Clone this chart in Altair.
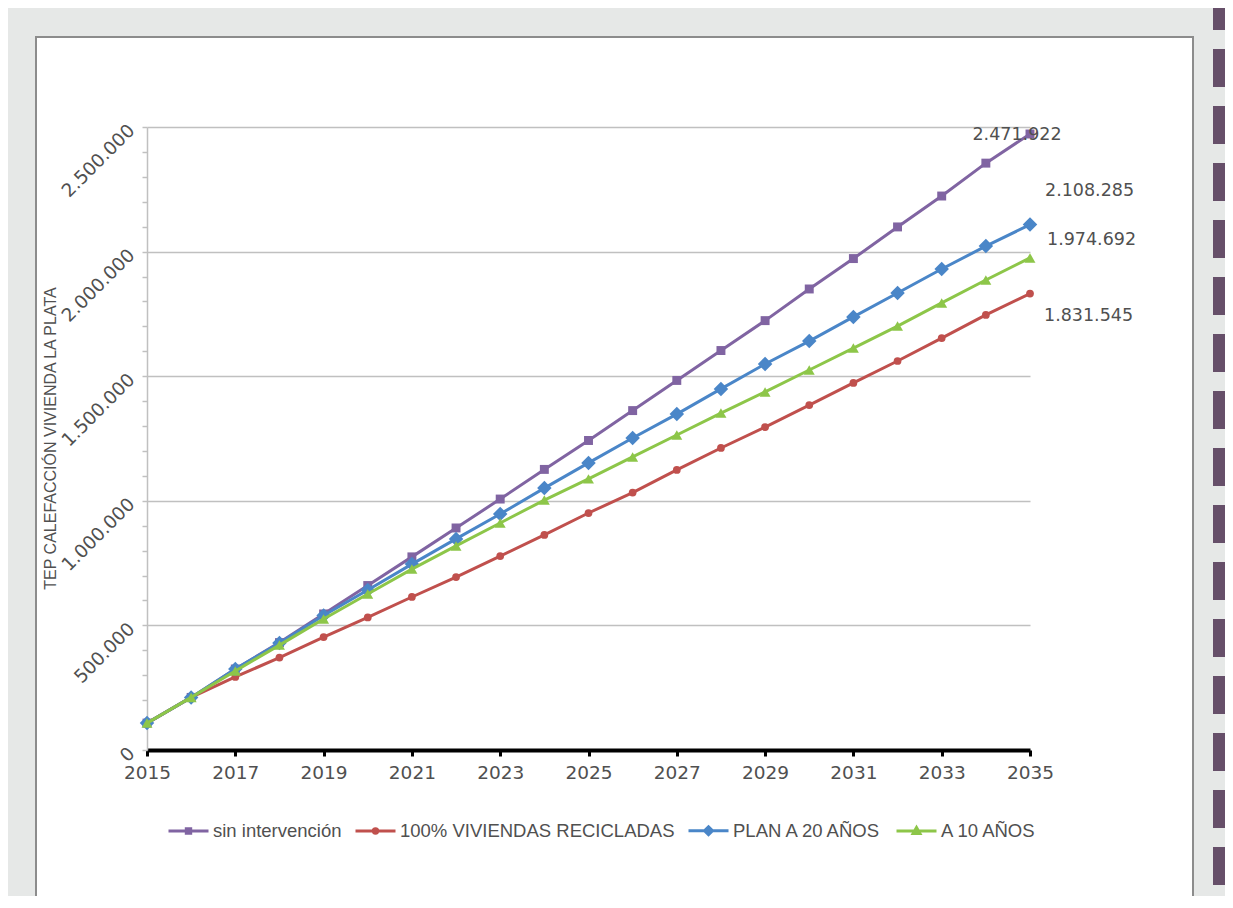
import altair as alt
import pandas as pd

# ---------------- data ----------------
years = list(range(2015, 2036))
series_names = ["sin intervención", "100% VIVIENDAS RECICLADAS", "PLAN A 20 AÑOS", "A 10 AÑOS"]
sin_intervencion = [108000, 211000, 325000, 431000, 546000, 660000, 775000, 891000, 1007000, 1126000,
                    1242000, 1362000, 1483000, 1603000, 1723000, 1850000, 1972000, 2099000, 2223000,
                    2355000, 2471922]
recicladas = [108000, 211000, 293000, 371000, 453000, 532000, 614000, 694000, 778000, 863000,
              951000, 1033000, 1124000, 1212000, 1296000, 1384000, 1473000, 1561000, 1653000,
              1746000, 1831545]
plan_20 = [108000, 211000, 325000, 429000, 540000, 642000, 746000, 847000, 947000, 1051000,
           1152000, 1252000, 1348000, 1449000, 1549000, 1641000, 1738000, 1834000, 1930000,
           2022000, 2108285]
a_10 = [108000, 211000, 317000, 421000, 526000, 626000, 726000, 819000, 911000, 1003000,
        1088000, 1176000, 1264000, 1352000, 1437000, 1525000, 1613000, 1701000, 1794000,
        1886000, 1974692]
x_ticks = list(range(2015, 2036, 2))
y_ticks = list(range(0, 2500001, 100000))
y_title = "TEP CALEFACCIÓN VIVIENDA LA PLATA"

# ---------------- styles ----------------
colors = ["#8064a2", "#c0504d", "#4a86c8", "#8dc649"]
marker_shapes = ["square", "circle", "diamond", "triangle-up"]
marker_sizes = [80, 60, 210, 120]
legend_paths = [
    "M-1,0H1M-0.11,-0.11H0.11V0.11H-0.11Z",
    "M-1,0H1M-0.11,0A0.11,0.11 0 1,0 0.11,0A0.11,0.11 0 1,0 -0.11,0Z",
    "M-1,0H1M0,-0.2L0.2,0L0,0.2L-0.2,0Z",
    "M-1,0H1M0,-0.17L0.17,0.13H-0.17Z",
]
# per series (same order as series_names): purple, red, blue, green
label_dx = [-13, 14, 15, 17]
label_dy = [1, 22, -34, -18]
label_align = ["center", "left", "left", "left"]

NUM_FONT = "DejaVu Sans"
SANS = "Liberation Sans, Arial, sans-serif"
TXT = "#505050"
GRID = "#c0c0c0"
BG = "#e6e8e7"

rows = []
for name, vals in zip(series_names, [sin_intervencion, recicladas, plan_20, a_10]):
    for yr, v in zip(years, vals):
        rows.append({"year": yr, "value": v, "series": name})
df = pd.DataFrame(rows)

xs = alt.Scale(domain=[2015, 2035], nice=False, zero=False)
ys = alt.Scale(domain=[0, 2500000], nice=False)
cs = alt.Scale(domain=series_names, range=colors)

x_axis = alt.Axis(values=x_ticks, format="d", title=None, grid=False,
                  domainColor="black", domainWidth=4, tickColor="black", tickWidth=3, tickSize=6,
                  labelFont=NUM_FONT, labelFontSize=18.5, labelColor=TXT, labelPadding=7,
                  labelFlush=False, labelOverlap=False)
y_axis = alt.Axis(values=y_ticks, title=y_title,
                  labelExpr="datum.value % 500000 === 0 ? replace(format(datum.value, ','), /,/g, '.') : ''",
                  labelAngle=315, labelAlign="right", labelBaseline="middle", labelPadding=11,
                  labelFont=NUM_FONT, labelFontSize=18.5, labelColor=TXT, labelOverlap=False,
                  labelFlush=False,
                  tickSize=5, tickColor=GRID, tickWidth=1.5, domainColor=GRID, domainWidth=1.5,
                  grid=True, gridColor=GRID, gridWidth=1.5,
                  gridOpacity={"condition": {"test": "datum.value % 500000 === 0", "value": 1}, "value": 0},
                  titleFont=SANS, titleFontSize=16, titleFontWeight="normal", titleColor=TXT,
                  titleAngle=270, titleX=-97, titleY=311, titleAlign="center", titleBaseline="middle")

base = alt.Chart(df)
X = alt.X("year:Q", scale=xs, axis=x_axis)
Y = alt.Y("value:Q", scale=ys, axis=y_axis)

# ---------------- decorations (page frame) ----------------
deco = alt.Data(values=[{"k": 1}])
strips = []
for (x1, x2, y1, y2) in [(-139, -111, -119, 769), (-139, 1078, -119, -90), (1046, 1078, -119, 769)]:
    strips.append(alt.Chart(deco).mark_rect(color=BG).encode(
        x=alt.value(x1), x2=alt.value(x2), y=alt.value(y1), y2=alt.value(y2)))
frame = alt.Chart(deco).mark_rect(fillOpacity=0, stroke="#8c8c8c", strokeWidth=2).encode(
    x=alt.value(-111), x2=alt.value(1046), y=alt.value(-90), y2=alt.value(776))
dashes = alt.Chart(deco).mark_rule(color="#664f69", strokeWidth=20, strokeDash=[38, 19],
                                   strokeCap="butt").encode(
    x=alt.value(1076), y=alt.value(-135), y2=alt.value(780))

layers = strips + [frame, dashes]

# ---------------- series ----------------
for i, name in enumerate(series_names):
    sub = base.transform_filter(alt.datum.series == name)
    layers.append(sub.mark_line(strokeWidth=3, color=colors[i]).encode(x=X, y=Y))
    layers.append(sub.mark_point(shape=marker_shapes[i], filled=True, size=marker_sizes[i],
                                 color=colors[i], opacity=1).encode(x=X, y=Y))

for i, name in enumerate(series_names):
    layers.append(
        base.transform_filter((alt.datum.series == name) & (alt.datum.year == 2035))
        .transform_calculate(label="replace(format(datum.value, ','), /,/g, '.')")
        .mark_text(dx=label_dx[i], dy=label_dy[i], align=label_align[i], baseline="middle",
                   font=NUM_FONT, fontSize=17.5, color=TXT)
        .encode(x=X, y=Y, text="label:N"))

# ---------------- legend layer ----------------
leg = alt.Legend(title=None, orient="none", legendX=20, legendY=682, direction="horizontal",
                 symbolSize=1600, symbolStrokeWidth=3, labelFont=SANS, labelFontSize=18.5,
                 labelColor=TXT, labelOffset=3, columnPadding=7, labelLimit=500)
layers.append(
    base.transform_filter("datum.year > 3000")
    .mark_point(filled=True, opacity=1)
    .encode(x=X, y=Y,
            color=alt.Color("series:N", scale=cs, legend=leg),
            stroke=alt.Stroke("series:N", scale=cs, legend=leg),
            shape=alt.Shape("series:N", scale=alt.Scale(domain=series_names, range=legend_paths),
                            legend=leg)))

chart = alt.layer(*layers).properties(
    width=883, height=623,
    padding={"left": 139, "top": 119, "right": 195, "bottom": 146},
    autosize=alt.AutoSizeParams(type="none"),
    background="white",
).configure_view(strokeWidth=0)

chart.save("out.html", embed_options={"renderer": "svg", "actions": False})
